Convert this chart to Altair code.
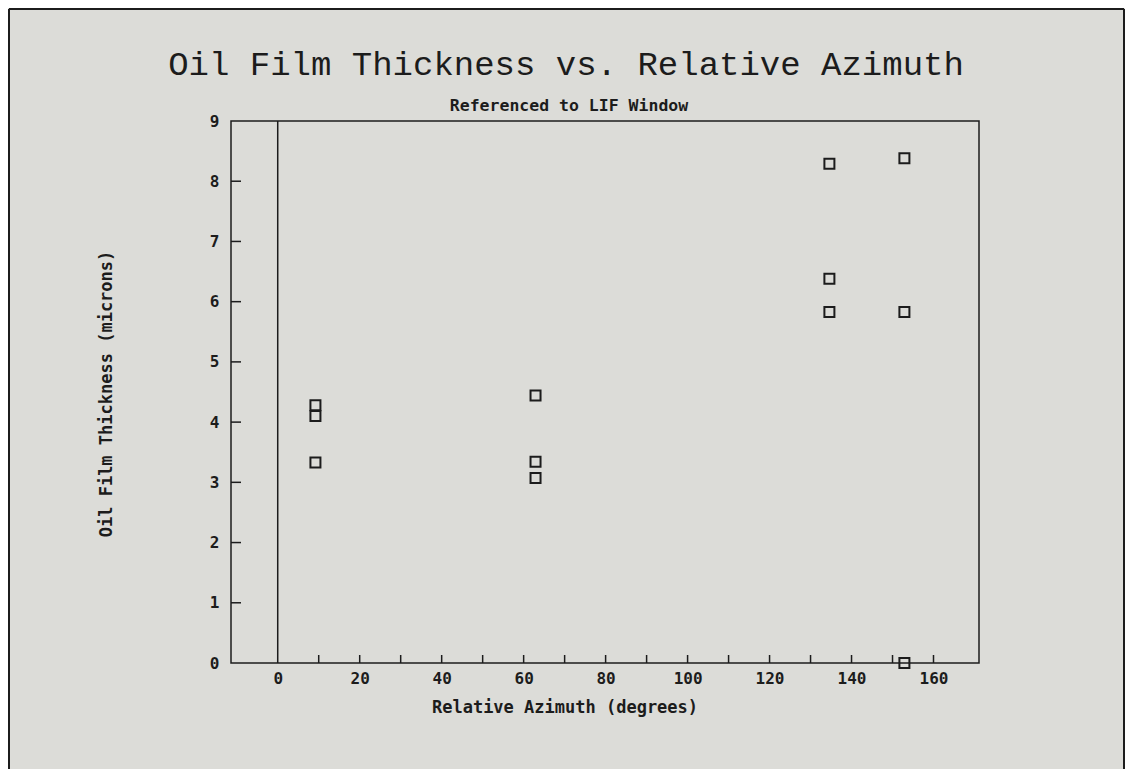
import altair as alt
import pandas as pd

# ---- data ----
azimuth = [9.2, 9.2, 9.2, 62.9, 62.9, 62.9, 134.6, 134.6, 134.6, 152.9, 152.9, 152.9]
thickness = [4.28, 4.10, 3.33, 4.44, 3.34, 3.07, 8.29, 6.38, 5.83, 8.38, 5.83, 0.0]
x_label_values = [0, 20, 40, 60, 80, 100, 120, 140, 160]
x_tick_values = [10, 20, 30, 40, 50, 60, 70, 80, 90, 100, 110, 120, 130, 140, 150, 160]
y_tick_values = [0, 1, 2, 3, 4, 5, 6, 7, 8, 9]
y_minor_ticks = [1, 2, 3, 4, 5, 6, 7, 8]
zero_line = [0]
x_domain = [-11.4, 171.1]
y_domain = [0, 9]

title_text = "Oil Film Thickness vs. Relative Azimuth"
subtitle_text = "Referenced to LIF Window"
x_title = "Relative Azimuth (degrees)"
y_title = "Oil Film Thickness (microns)"

INK = "#1c1c1c"
BG = "#dcdcd8"
W, H = 748, 542
LABEL_FONT = "DejaVu Sans Mono"

df = pd.DataFrame({"az": azimuth, "th": thickness})

xscale = alt.Scale(domain=x_domain, nice=False, zero=False)
yscale = alt.Scale(domain=y_domain, nice=False, zero=False)

xaxis = alt.Axis(values=x_label_values, format="d", ticks=False, tickSize=0, domain=False, grid=False,
                 labelFont=LABEL_FONT, labelFontWeight="bold", labelFontSize=16,
                 labelColor=INK, labelPadding=7, title=None)
yaxis = alt.Axis(values=y_tick_values, format="d", ticks=False, tickSize=0, domain=False, grid=False,
                 labelFont=LABEL_FONT, labelFontWeight="bold", labelFontSize=16,
                 labelColor=INK, labelPadding=12, title=None)

points = alt.Chart(df).mark_point(shape="square", filled=False, size=100,
                                  stroke=INK, strokeWidth=2, opacity=1).encode(
    x=alt.X("az:Q", scale=xscale, axis=xaxis),
    y=alt.Y("th:Q", scale=yscale, axis=yaxis),
)

vline = alt.Chart(pd.DataFrame({"v": zero_line})).mark_rule(color=INK, strokeWidth=1.5).encode(
    x=alt.X("v:Q", scale=xscale),
    y=alt.value(0), y2=alt.value(H),
)

xticks = alt.Chart(pd.DataFrame({"v": x_tick_values})).mark_rule(color=INK, strokeWidth=1.5).encode(
    x=alt.X("v:Q", scale=xscale),
    y=alt.value(H), y2=alt.value(H - 8),
)

yticks = alt.Chart(pd.DataFrame({"v": y_minor_ticks})).mark_rule(color=INK, strokeWidth=1.5).encode(
    y=alt.Y("v:Q", scale=yscale),
    x=alt.value(0), x2=alt.value(10),
)

def text_layer(txt, **kw):
    enc = {k: v for k, v in kw.items() if k in ("x", "y")}
    mk = {k: v for k, v in kw.items() if k not in ("x", "y")}
    return alt.Chart(pd.DataFrame({"t": [txt]})).mark_text(color=INK, **mk).encode(
        text="t:N", x=alt.value(enc["x"]), y=alt.value(enc["y"]))

title = text_layer(title_text, x=335, y=-46, font="Liberation Mono", fontSize=34,
                   align="center", baseline="alphabetic")
subtitle = text_layer(subtitle_text, x=338, y=-10, font=LABEL_FONT, fontWeight="bold",
                      fontSize=16.5, align="center", baseline="alphabetic")
xt = text_layer(x_title, x=334, y=592, font=LABEL_FONT, fontWeight="bold", fontSize=17,
                align="center", baseline="alphabetic")
yt = text_layer(y_title, x=-124, y=273, font=LABEL_FONT, fontWeight="bold", fontSize=17,
                align="center", baseline="middle", angle=270)

# outer frame of the figure
frame_left = alt.Chart(pd.DataFrame({"v": [0]})).mark_rule(color=INK, strokeWidth=2).encode(
    x=alt.value(-222), y=alt.value(-112), y2=alt.value(H + 106))
frame_top = alt.Chart(pd.DataFrame({"v": [0]})).mark_rule(color=INK, strokeWidth=2).encode(
    x=alt.value(-222), x2=alt.value(W + 145), y=alt.value(-112))
frame_right = alt.Chart(pd.DataFrame({"v": [0]})).mark_rule(color=INK, strokeWidth=2).encode(
    x=alt.value(W + 145), y=alt.value(-112), y2=alt.value(H + 106))

chart = alt.layer(
    vline, xticks, yticks, points, title, subtitle, xt, yt, frame_left, frame_top, frame_right
).properties(
    width=W, height=H,
    autosize=alt.AutoSizeParams(type="none"),
    padding={"left": 223, "top": 113, "right": 146, "bottom": 106},
    background=BG,
).configure_view(
    stroke=INK, strokeWidth=1.5, fill=BG
)

chart.save("out.html", embed_options={"renderer": "svg", "actions": False})
